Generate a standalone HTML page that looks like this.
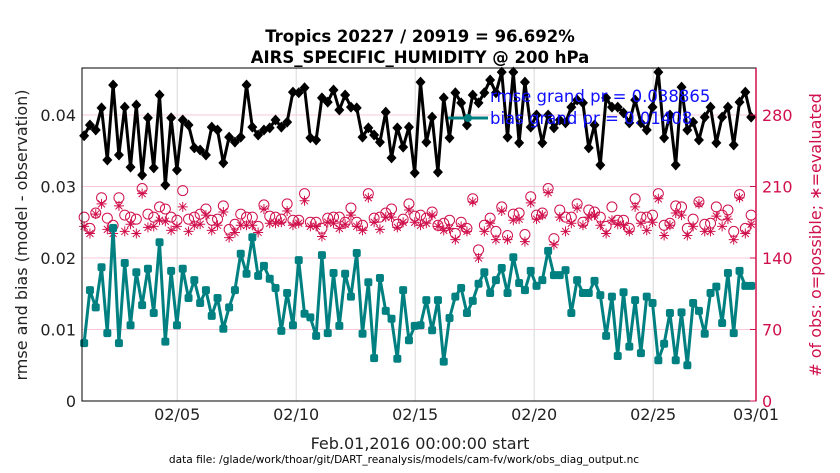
<!DOCTYPE html>
<html><head><meta charset="utf-8"><style>
html,body{margin:0;padding:0;background:#fff;}
svg{display:block;font-family:"DejaVu Sans","Liberation Sans",sans-serif;}
</style></head><body>
<svg id="chart" width="840" height="473" viewBox="0 0 840 473">
<text x="420" y="42" text-anchor="middle" font-size="16.5" font-weight="bold">Tropics 20227 / 20919 = 96.692%</text>
<text x="420" y="63" text-anchor="middle" font-size="16.5" font-weight="bold">AIRS_SPECIFIC_HUMIDITY @ 200 hPa</text>
<g id="grid"></g>
<g id="series"></g>
<rect x="82" y="68" width="674" height="333" fill="none" stroke="#000" stroke-width="1"/>
<line x1="756" y1="68" x2="756" y2="401" stroke="#d0104c" stroke-width="1.5"/>
<g id="axes"></g>
<text transform="translate(27,235) rotate(-90)" text-anchor="middle" font-size="16" fill="#222">rmse and bias (model - observation)</text>
<text transform="translate(821,235) rotate(-90)" text-anchor="middle" font-size="16" fill="#d0104c"># of obs: o=possible; ∗=evaluated</text>
<text x="420" y="449" text-anchor="middle" font-size="16" fill="#222">Feb.01,2016 00:00:00 start</text>
<text x="404" y="463" text-anchor="middle" font-size="10.6" fill="#000">data file: /glade/work/thoar/git/DART_reanalysis/models/cam-fv/work/obs_diag_output.nc</text>
<g>
<text x="490" y="102" font-size="16.5" fill="#1010ff">rmse grand pr = 0.038865</text>
<line x1="448" y1="118" x2="488" y2="118" stroke="#008080" stroke-width="3"/>
<circle cx="468" cy="118" r="4" fill="#008080"/>
<text x="490" y="124" font-size="16.5" fill="#1010ff">bias grand pr = 0.01408</text>
</g>
</svg>
<script>
const rmse=[37.1,38.6,37.9,41.0,33.7,44.2,34.4,41.1,32.7,41.4,31.6,39.6,32.6,42.8,30.2,39.6,32.3,39.3,38.6,35.4,35.1,34.4,38.3,37.9,33.3,36.9,36.2,36.9,44.2,38.3,
37.2,37.9,38.2,39.3,38.3,39.0,43.2,43.1,43.8,36.8,36.5,42.4,41.8,43.5,40.7,42.8,41.1,41.0,36.9,38.2,37.2,36.2,40.4,34.0,38.2,35.5,38.3,31.9,44.6,36.2,
39.7,32.0,42.4,36.8,43.1,41.7,38.6,42.8,41.7,43.1,44.9,43.1,46.0,36.9,46.0,36.1,44.6,38.3,40.0,36.1,40.0,38.2,39.3,38.9,41.1,42.1,41.7,35.4,38.6,
33.0,42.4,41.1,41.1,40.3,38.9,42.1,38.9,37.9,41.1,46.0,36.8,40.0,33.0,43.9,37.9,39.0,36.5,39.7,41.1,36.1,39.7,41.1,35.8,41.8,43.2,39.7];
const bias=[8.1,15.5,13.1,18.7,9.5,24.2,8.1,19.3,10.6,18.0,13.4,18.5,12.3,22.2,8.3,18.2,10.6,18.5,14.4,16.9,13.7,15.5,11.9,14.4,10.1,13.1,15.5,20.6,17.8,22.9,
17.5,18.9,17.1,15.8,9.8,15.1,10.6,19.7,12.2,11.7,9.1,20.4,9.5,17.9,10.5,17.8,14.6,20.7,9.4,16.6,6.0,17.2,12.6,11.5,5.9,15.5,8.5,10.5,10.6,14.1,
9.9,14.1,5.5,11.6,14.6,15.8,12.3,14.0,16.4,18.0,15.1,16.9,18.6,15.1,20.1,16.5,15.5,18.2,16.1,16.9,21.0,17.6,17.6,18.3,12.3,16.9,15.1,15.1,16.8,
14.8,9.1,14.6,6.3,15.2,7.6,14.1,6.7,14.6,13.7,5.7,8.0,12.3,5.7,12.4,5.0,13.7,12.6,9.4,15.1,16.0,10.9,17.9,9.5,18.2,16.1,16.1];
const possible=[180,169,184,199,179,172,199,182,180,178,208,183,180,190,188,180,177,206,178,180,183,188,177,178,191,168,173,183,180,180,
171,192,181,180,178,193,177,177,203,175,175,169,179,180,180,175,189,175,172,203,179,180,184,188,173,178,193,181,182,179,
185,172,174,177,164,175,169,198,148,172,179,166,190,162,183,184,163,200,182,184,208,159,187,180,180,193,175,187,185,
180,171,190,177,177,169,198,180,180,182,203,172,174,191,190,169,178,195,173,174,190,182,187,166,202,169,182];
const evaluated=[171,164,183,193,168,164,191,166,173,164,203,170,171,177,176,167,171,190,166,172,173,182,167,172,185,160,165,172,172,172,
165,188,174,174,175,186,172,174,196,171,171,161,175,174,169,173,182,171,167,199,175,168,180,180,170,175,187,175,172,174,
182,171,167,169,158,171,166,195,140,166,174,158,186,158,177,178,156,194,178,182,204,153,180,166,174,189,172,180,182,
172,164,177,173,172,166,190,174,167,175,198,162,172,184,182,162,171,193,166,166,181,171,178,158,199,164,173];
const leftTicks=[0,0.01,0.02,0.03,0.04];
const leftTickLabels=["0","0.01","0.02","0.03","0.04"];
const rightTicks=[0,70,140,210,280];
const dateTicks=[4,9,14,19,24,28.32];
const dateLabels=["02/05","02/10","02/15","02/20","02/25","03/01"];
const firstTime=0.09, stepDays=0.2437;

const NS="http://www.w3.org/2000/svg";
const X0=82,X1=756,Y0=401,Y1=68,DAYS=28.32;
const xS=t=>X0+t*(X1-X0)/DAYS;
const yL=v=>Y0-v*(Y0-Y1)/0.04657;
const yR=v=>Y0-v*(Y0-Y1)/326;
function mk(tag,attrs,parent){const e=document.createElementNS(NS,tag);for(const k in attrs)e.setAttribute(k,attrs[k]);parent.appendChild(e);return e;}
const grid=document.getElementById('grid'),axes=document.getElementById('axes'),ser=document.getElementById('series');
rightTicks.forEach((v,i)=>{if(v===0)return;const l=mk('line',{x1:X0,x2:X1,y1:yR(v),y2:yR(v),stroke:'#f8c8d8','stroke-width':1},grid);

});
dateTicks.forEach((d,i)=>{const x=xS(d);
if(d<DAYS){const g=mk('line',{x1:x,x2:x,y1:Y1,y2:Y0,stroke:'#d8d8d8','stroke-width':1},grid);

}
const t=mk('text',{x:x,y:420,'text-anchor':'middle','font-size':16,fill:'#222'},axes);t.textContent=dateLabels[i];

});
leftTicks.forEach((v,i)=>{const t=mk('text',{x:76,y:yL(v)+6,'text-anchor':'end','font-size':16,fill:'#222'},axes);t.textContent=leftTickLabels[i];

});
rightTicks.forEach(v=>{const t=mk('text',{x:762,y:yR(v)+6,'font-size':16,fill:'#d0104c'},axes);t.textContent=String(v);


const k=mk('line',{x1:750,x2:756,y1:yR(v),y2:yR(v),stroke:'#d0104c','stroke-width':1},axes);

});
const tx=i=>xS(firstTime+i*stepDays);
possible.forEach((v,i)=>{const c=mk('circle',{cx:tx(i),cy:yR(v),r:5,fill:'none',stroke:'#d0104c','stroke-width':1},ser);

});
evaluated.forEach((v,i)=>{const x=tx(i),y=yR(v),r=5;
const s=mk('path',{d:`M${x-r} ${y}H${x+r}M${x} ${y-r}V${y+r}M${x-3.5} ${y-3.5}L${x+3.5} ${y+3.5}M${x-3.5} ${y+3.5}L${x+3.5} ${y-3.5}`,stroke:'#d0104c','stroke-width':1},ser);

});
const rp=rmse.map((v,i)=>`${tx(i).toFixed(1)},${yL(v/1000).toFixed(1)}`).join(' ');
const rl=mk('polyline',{points:rp,fill:'none',stroke:'#000','stroke-width':3,'stroke-linejoin':'round'},ser);


rmse.forEach((v,i)=>{const x=tx(i),y=yL(v/1000);
const d=mk('path',{d:`M${x} ${y-5.5}L${x+5} ${y}L${x} ${y+5.5}L${x-5} ${y}Z`,fill:'#000'},ser);

});
const bp=bias.map((v,i)=>`${tx(i).toFixed(1)},${yL(v/1000).toFixed(1)}`).join(' ');
const bl=mk('polyline',{points:bp,fill:'none',stroke:'#008080','stroke-width':3,'stroke-linejoin':'round'},ser);


bias.forEach((v,i)=>{const s=mk('rect',{x:tx(i)-4,y:yL(v/1000)-4,width:8,height:8,rx:2,fill:'#008080'},ser);

});
</script>
</body></html>
